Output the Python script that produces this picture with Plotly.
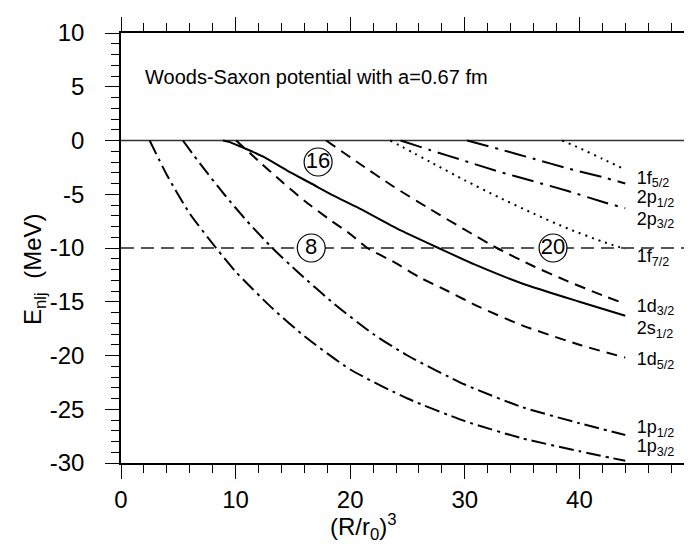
import plotly.graph_objects as go

# ---- data (x = (R/r0)^3, y = E_nlj in MeV) ----
x_1p32 = [2.5, 4, 6, 8.3, 10, 13.1, 16, 20, 25, 30, 35, 40, 44]
y_1p32 = [0, -3.2, -6.8, -10, -12.2, -15.5, -18.2, -21.3, -24.0, -26.1, -27.7, -28.9, -29.8]

x_1p12 = [5.4, 7, 9, 11, 13.2, 15.5, 18.6, 22, 25, 30, 35, 40, 44]
y_1p12 = [0, -2.3, -5.0, -7.5, -10, -12.3, -15.2, -18.0, -20.0, -22.7, -24.8, -26.3, -27.4]

x_1d52 = [10.05, 12, 14, 16, 18, 20, 21.5, 23.8, 26, 28.5, 31.3, 35, 40, 44]
y_1d52 = [0, -1.9, -3.8, -5.6, -7.2, -8.7, -10, -11.3, -12.7, -14.0, -15.5, -17.2, -19.0, -20.2]

x_2s12 = [8.9, 9.5, 10.5, 11.5, 12.5, 14.5, 16.6, 18.5, 20.6, 24.1, 27.7, 31, 35, 40, 44]
y_2s12 = [0, -0.15, -0.6, -1.05, -1.55, -2.8, -4.0, -5.1, -6.2, -8.2, -10.0, -11.6, -13.3, -15.0, -16.3]

x_1d32 = [17.9, 20.6, 23.8, 27, 30, 32.8, 36, 39, 42, 44]
y_1d32 = [0, -2.0, -4.3, -6.4, -8.3, -10, -11.7, -13.1, -14.4, -15.2]

x_1f72 = [23.5, 27, 30, 33, 36, 39, 42, 44]
y_1f72 = [0, -2.0, -3.7, -5.3, -6.8, -8.2, -9.4, -10.1]

x_2p32 = [24.4, 27, 30, 33, 36, 39, 42, 44]
y_2p32 = [0, -0.9, -1.9, -2.9, -3.8, -4.7, -5.7, -6.3]

x_2p12 = [30.2, 33, 36, 39, 42, 44]
y_2p12 = [0, -0.8, -1.7, -2.6, -3.4, -4.0]

x_1f52 = [38.5, 40, 42, 44]
y_1f52 = [0, -0.7, -1.7, -2.7]

level_names = ["1f<sub>5/2</sub>", "2p<sub>1/2</sub>", "2p<sub>3/2</sub>", "1f<sub>7/2</sub>",
               "1d<sub>3/2</sub>", "2s<sub>1/2</sub>", "1d<sub>5/2</sub>", "1p<sub>1/2</sub>", "1p<sub>3/2</sub>"]
label_x = [45.0] * 9
label_y = [-3.6, -5.4, -7.4, -10.9, -15.5, -17.6, -20.5, -26.8, -28.6]

magic_numbers = ["16", "8", "20"]
magic_x = [17.2, 16.6, 37.7]
magic_y = [-2.0, -10, -10]

ref_levels = [0, -10]
x_range = [0, 50]
y_range = [-30, 10]

x_tick_vals = [0, 10, 20, 30, 40]
x_tick_text = ["0", "10", "20", "30", "40"]
y_tick_vals = [10, 5, 0, -5, -10, -15, -20, -25, -30]
y_tick_text = ["10", "5", "0", "-5", "-10", "-15", "-20", "-25", "-30"]

FONT = "Liberation Sans, Arial, Helvetica, sans-serif"

fig = go.Figure()

# reference lines
fig.add_trace(go.Scatter(x=x_range, y=[ref_levels[0]] * 2, mode="lines",
                         line=dict(color="#333333", width=1.5), hoverinfo="skip", showlegend=False))
fig.add_trace(go.Scatter(x=x_range, y=[ref_levels[1]] * 2, mode="lines",
                         line=dict(color="#222222", width=1.3, dash="13px,7px"), hoverinfo="skip", showlegend=False))

DASH = "11px,7px"
DASHDOT = "15px,5px,3px,5px"
LONGDASHDOT = "22px,7px,3px,7px"
DOT = "2px,5px"

curves = [
    (x_1p32, y_1p32, DASHDOT),
    (x_1p12, y_1p12, DASHDOT),
    (x_1d52, y_1d52, DASH),
    (x_2s12, y_2s12, "solid"),
    (x_1d32, y_1d32, DASH),
    (x_1f72, y_1f72, DOT),
    (x_2p32, y_2p32, LONGDASHDOT),
    (x_2p12, y_2p12, LONGDASHDOT),
    (x_1f52, y_1f52, DOT),
]
for xs, ys, d in curves:
    fig.add_trace(go.Scatter(x=xs, y=ys, mode="lines",
                             line=dict(color="black", width=2, dash=d, shape="spline", smoothing=0.6),
                             hoverinfo="skip", showlegend=False))

# circled magic numbers
fig.add_trace(go.Scatter(x=magic_x, y=magic_y, mode="markers+text", text=magic_numbers,
                         textposition="middle center",
                         marker=dict(symbol="circle", size=28, color="white", line=dict(color="black", width=1.2)),
                         textfont=dict(family=FONT, size=22, color="black"),
                         hoverinfo="skip", showlegend=False))

# level labels
fig.add_trace(go.Scatter(x=label_x, y=label_y, mode="text", text=level_names, textposition="middle right",
                         textfont=dict(family=FONT, size=18, color="black"), hoverinfo="skip", showlegend=False))

fig.add_annotation(x=1.9, y=5.9, xref="x", yref="y", text="Woods-Saxon potential with a=0.67 fm",
                   showarrow=False, xanchor="left", yanchor="middle",
                   font=dict(family=FONT, size=20, color="black"))

# axis titles
fig.add_annotation(x=0.423, y=-0.149, xref="paper", yref="paper", text="(R/r<sub>0</sub>)<sup>3</sup>",
                   showarrow=False, xanchor="center", yanchor="middle",
                   font=dict(family=FONT, size=24, color="black"))
fig.add_annotation(x=-0.151, y=-12, xref="paper", yref="y", text="E<sub>nlj</sub>  (MeV)", textangle=-90,
                   showarrow=False, xanchor="center", yanchor="middle",
                   font=dict(family=FONT, size=24, color="black"))

axis_common = dict(showline=True, linecolor="black", linewidth=1.5, mirror="allticks",
                   ticks="outside", ticklen=14, tickwidth=1.3, tickcolor="black",
                   showgrid=False, zeroline=False,
                   tickfont=dict(family=FONT, size=24, color="black"))

fig.update_xaxes(range=x_range, tickvals=x_tick_vals, ticktext=x_tick_text,
                 minor=dict(dtick=2, tick0=0, ticks="outside", ticklen=8, tickwidth=1.2, tickcolor="black", showgrid=False),
                 ticklabelstandoff=0, **axis_common)
fig.update_yaxes(range=y_range, tickvals=y_tick_vals, ticktext=y_tick_text,
                 minor=dict(dtick=1, tick0=0, ticks="outside", ticklen=8, tickwidth=1.2, tickcolor="black", showgrid=False),
                 ticklabelstandoff=16, **axis_common)

fig.update_layout(width=692, height=544, plot_bgcolor="white", paper_bgcolor="white",
                  margin=dict(l=113, r=6, t=25, b=89, autoexpand=False), showlegend=False)

fig.write_html("out.html")
